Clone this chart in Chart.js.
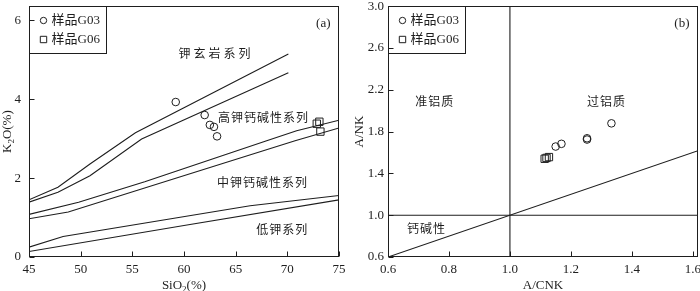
<!DOCTYPE html>
<html>
<head>
<meta charset="utf-8">
<script src="https://cdn.jsdelivr.net/npm/chart.js@4.4.0/dist/chart.umd.min.js"></script>
<style>
  html, body { margin: 0; padding: 0; background: #fff; overflow: hidden; width: 700px; height: 291px; }
  .box { position: absolute; top: 0; height: 291px; }
  #wa { left: 0; width: 350px; }
  #wb { left: 350px; width: 362px; }
</style>
</head>
<body>
<div class="box" id="wa"><canvas id="ga" width="350" height="291"></canvas></div>
<div class="box" id="wb"><canvas id="gb" width="362" height="291"></canvas></div>
<script>
// (a) SiO2 - K2O
const siO2Ticks = [45, 50, 55, 60, 65, 70, 75];
const k2oTicks = [0, 2, 4, 6];
const shoLine1 = [[45, 1.45], [47.8, 1.77], [50.9, 2.36], [55.3, 3.15], [70.1, 5.15]];
const shoLine2 = [[45, 1.39], [47.8, 1.64], [50.9, 2.06], [55.9, 2.99], [70.1, 4.67]];
const hkLine1 = [[45, 1.08], [49.8, 1.39], [56.2, 1.91], [68, 2.95], [70.9, 3.2], [75, 3.47]];
const hkLine2 = [[45, 0.97], [48.8, 1.14], [70.75, 2.95], [75, 3.27]];
const lkLine1 = [[45, 0.25], [48.3, 0.52], [66.4, 1.3], [75, 1.56]];
const lkLine2 = [[45, 0.14], [60, 0.8], [75, 1.45]];
const g03SiO2 = [59.2, 62.0, 62.5, 62.9, 63.2];
const g03K2O = [3.93, 3.60, 3.35, 3.30, 3.06];
const g06SiO2 = [72.85, 73.1, 73.2];
const g06K2O = [3.38, 3.43, 3.18];

// (b) A/CNK - A/NK
const acnkTicks = [0.6, 0.8, 1.0, 1.2, 1.4, 1.6];
const ankTicks = [0.6, 1.0, 1.4, 1.8, 2.2, 2.6, 3.0];
const splitV = [[1.0, 0.6], [1.0, 3.0]];
const splitH = [[0.6, 1.0], [1.617, 1.0]];
const diagLine = [[0.6, 0.6], [1.617, 1.617]];
const g03ACNK = [1.150, 1.169, 1.253, 1.253, 1.333];
const g03ANK = [1.657, 1.683, 1.736, 1.724, 1.879];
const g06ACNK = [1.114, 1.120, 1.128];
const g06ANK = [1.540, 1.548, 1.556];

const ink = '#1e1e1e';
const serif = "'Liberation Serif', 'Noto Sans CJK SC', serif";
const cjk = "'Noto Sans CJK SC', sans-serif";

const pts = arr => arr.map(([x, y]) => ({ x, y }));
const zip = (xs, ys) => xs.map((x, i) => ({ x, y: ys[i] }));

const line = arr => ({
  type: 'line', data: pts(arr), borderColor: ink, borderWidth: 1.1,
  pointRadius: 0, fill: false, tension: 0
});
const marks = (data, style, r) => ({
  type: 'scatter', data, pointStyle: style, pointRadius: r, pointHoverRadius: r,
  borderColor: ink, borderWidth: 1, backgroundColor: 'rgba(0,0,0,0)'
});

function drawRich(ctx, parts, cx, base) {
  let w = 0;
  parts.forEach(p => { ctx.font = (p.sub ? '9px ' : '13px ') + serif; w += ctx.measureText(p.t).width; });
  let xx = cx - w / 2;
  ctx.textAlign = 'left';
  ctx.textBaseline = 'alphabetic';
  parts.forEach(p => {
    ctx.font = (p.sub ? '9px ' : '13px ') + serif;
    ctx.fillText(p.t, xx, base + (p.sub ? 3 : 0));
    xx += ctx.measureText(p.t).width;
  });
}

const decor = {
  id: 'decor',
  afterDraw(chart, args, o) {
    const { ctx, chartArea: a, scales: { x, y } } = chart;
    const L = Math.round(a.left) + 0.5, T = Math.round(a.top) + 0.5;
    const R = Math.round(a.right) - 0.5, B = Math.round(a.bottom) - 0.5;
    ctx.save();
    ctx.strokeStyle = ink;
    ctx.fillStyle = ink;
    ctx.lineWidth = 1;
    ctx.strokeRect(L, T, R - L, B - T);

    // inward ticks
    ctx.beginPath();
    x.ticks.forEach(t => {
      const px = Math.round(x.getPixelForValue(t.value)) + 0.5;
      ctx.moveTo(px, B); ctx.lineTo(px, B - 5);
    });
    y.ticks.forEach(t => {
      const py = Math.round(y.getPixelForValue(t.value)) + 0.5;
      ctx.moveTo(L, py); ctx.lineTo(L + 5, py);
    });
    ctx.stroke();

    // region labels
    ctx.textAlign = 'center';
    ctx.textBaseline = 'middle';
    o.labels.forEach(l => {
      ctx.font = '12px ' + cjk;
      ctx.letterSpacing = (l.sp || 1) + 'px';
      ctx.fillText(l.text, x.getPixelForValue(l.x), y.getPixelForValue(l.y));
    });
    ctx.letterSpacing = '0px';

    // panel tag
    ctx.font = '13px ' + serif;
    ctx.textAlign = 'right';
    ctx.fillText(o.tag, R - 8, T + 17);

    // legend
    ctx.strokeRect(L, T, 77, 47);
    const items = [{ s: 'circle', t: '样品G03' }, { s: 'rect', t: '样品G06' }];
    items.forEach((it, i) => {
      const cx = L + 14, cy = T + 14 + i * 19;
      ctx.beginPath();
      if (it.s === 'circle') ctx.arc(cx, cy, 3.2, 0, Math.PI * 2);
      else ctx.rect(cx - 3.2, cy - 3.2, 6.4, 6.4);
      ctx.stroke();
      ctx.font = '13px ' + serif;
      ctx.textAlign = 'left';
      ctx.textBaseline = 'middle';
      ctx.fillText(it.t, cx + 8, cy + 0.5);
    });

    // axis titles
    drawRich(ctx, o.xTitle, (a.left + a.right) / 2, 289);
    ctx.translate(o.yTitleX, (a.top + a.bottom) / 2);
    ctx.rotate(-Math.PI / 2);
    drawRich(ctx, o.yTitle, 0, 0);
    ctx.restore();
  }
};

function axis(min, max, ticks, fmt, size, pad, horizontal) {
  return {
    type: 'linear', min, max,
    grid: { display: false, drawTicks: false },
    border: { display: false },
    afterBuildTicks: s => { s.ticks = ticks.map(v => ({ value: v })); },
    afterFit: s => {
      if (horizontal) s.height = size; else s.width = size;
      s.paddingTop = 0; s.paddingBottom = 0; s.paddingLeft = 0; s.paddingRight = 0;
    },
    ticks: {
      padding: pad, color: ink, autoSkip: false, maxRotation: 0,
      font: { family: serif, size: 13 },
      callback: fmt
    }
  };
}

const baseOpts = (padding, scales, decorOpts) => ({
  responsive: false,
  animation: false,
  events: [],
  layout: { padding },
  plugins: { legend: { display: false }, tooltip: { enabled: false }, decor: decorOpts },
  scales
});

new Chart(document.getElementById('ga'), {
  type: 'scatter',
  data: {
    datasets: [
      line(shoLine1), line(shoLine2), line(hkLine1), line(hkLine2), line(lkLine1), line(lkLine2),
      marks(zip(g03SiO2, g03K2O), 'circle', 3.8),
      marks(zip(g06SiO2, g06K2O), 'rect', 5.2)
    ]
  },
  options: baseOpts(
    { top: 4, right: 11, left: 0, bottom: 0 },
    {
      x: axis(45, 75, siO2Ticks, v => String(v), 34, 5, true),
      y: axis(0, 6.36, k2oTicks, v => String(v), 29, 8, false)
    },
    {
      tag: '(a)',
      labels: [
        { text: '钾玄岩系列', x: 63.1, y: 5.15, sp: 3 },
        { text: '高钾钙碱性系列', x: 67.7, y: 3.54 },
        { text: '中钾钙碱性系列', x: 67.6, y: 1.89 },
        { text: '低钾系列', x: 69.5, y: 0.70 }
      ],
      xTitle: [{ t: 'SiO' }, { t: '2', sub: true }, { t: '(%)' }],
      yTitle: [{ t: 'K' }, { t: '2', sub: true }, { t: 'O(%)' }],
      yTitleX: 11
    }
  ),
  plugins: [decor]
});

new Chart(document.getElementById('gb'), {
  type: 'scatter',
  data: {
    datasets: [
      line(splitV), line(splitH), line(diagLine),
      marks(zip(g03ACNK, g03ANK), 'circle', 3.8),
      marks(zip(g06ACNK, g06ANK), 'rect', 5.2)
    ]
  },
  options: baseOpts(
    { top: 5, right: 14, left: 0, bottom: 0 },
    {
      x: axis(0.6, 1.617, acnkTicks, v => v.toFixed(1), 34, 5, true),
      y: axis(0.6, 3.0, ankTicks, v => v.toFixed(1), 38, 4, false)
    },
    {
      tag: '(b)',
      labels: [
        { text: '准铝质', x: 0.753, y: 2.086 },
        { text: '过铝质', x: 1.317, y: 2.086 },
        { text: '钙碱性', x: 0.726, y: 0.873 }
      ],
      xTitle: [{ t: 'A/CNK' }],
      yTitle: [{ t: 'A/NK' }],
      yTitleX: 13
    }
  ),
  plugins: [decor]
});
</script>
</body>
</html>
